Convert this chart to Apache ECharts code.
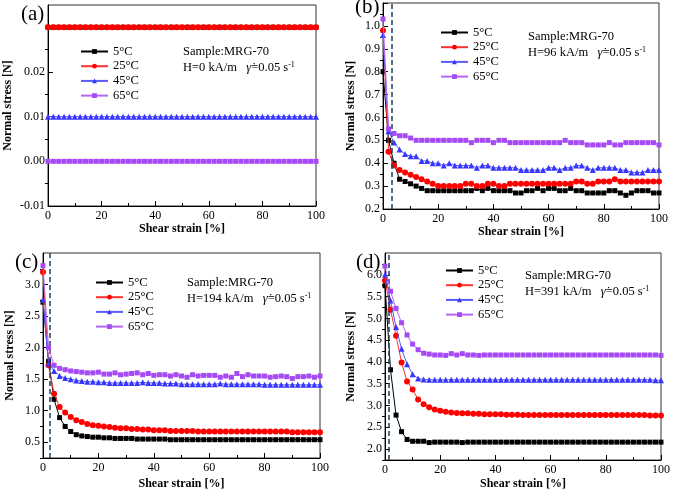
<!DOCTYPE html>
<html><head><meta charset="utf-8">
<script src="https://cdn.jsdelivr.net/npm/echarts@6/dist/echarts.min.js"></script>
<style>html,body{margin:0;padding:0;background:#fff}#c{width:673px;height:493px}</style>
</head><body><div id="c"></div>
<script>
const names = ['5°C','25°C','45°C','65°C'];
const strain = [0,2,4,6,8,10,12,14,16,18,20,22,24,26,28,30,32,34,36,38,40,42,44,46,48,50,52,54,56,58,60,62,64,66,68,70,72,74,76,78,80,82,84,86,88,90,92,94,96,98,100];

// Panel (a) H=0 kA/m
const a5  = [0.03,0.03,0.03,0.03,0.03,0.03,0.03,0.03,0.03,0.03,0.03,0.03,0.03,0.03,0.03,0.03,0.03,0.03,0.03,0.03,0.03,0.03,0.03,0.03,0.03,0.03,0.03,0.03,0.03,0.03,0.03,0.03,0.03,0.03,0.03,0.03,0.03,0.03,0.03,0.03,0.03,0.03,0.03,0.03,0.03,0.03,0.03,0.03,0.03,0.03,0.03];
const a25 = [0.03,0.03,0.03,0.03,0.03,0.03,0.03,0.03,0.03,0.03,0.03,0.03,0.03,0.03,0.03,0.03,0.03,0.03,0.03,0.03,0.03,0.03,0.03,0.03,0.03,0.03,0.03,0.03,0.03,0.03,0.03,0.03,0.03,0.03,0.03,0.03,0.03,0.03,0.03,0.03,0.03,0.03,0.03,0.03,0.03,0.03,0.03,0.03,0.03,0.03,0.03];
const a45 = [0.01,0.01,0.01,0.01,0.01,0.01,0.01,0.01,0.01,0.01,0.01,0.01,0.01,0.01,0.01,0.01,0.01,0.01,0.01,0.01,0.01,0.01,0.01,0.01,0.01,0.01,0.01,0.01,0.01,0.01,0.01,0.01,0.01,0.01,0.01,0.01,0.01,0.01,0.01,0.01,0.01,0.01,0.01,0.01,0.01,0.01,0.01,0.01,0.01,0.01,0.01];
const a65 = [0,0,0,0,0,0,0,0,0,0,0,0,0,0,0,0,0,0,0,0,0,0,0,0,0,0,0,0,0,0,0,0,0,0,0,0,0,0,0,0,0,0,0,0,0,0,0,0,0,0,0];

// Panel (b) H=96 kA/m
const b5  = [0.80,0.50,0.40,0.33,0.32,0.31,0.30,0.29,0.28,0.28,0.28,0.28,0.28,0.28,0.28,0.28,0.28,0.29,0.28,0.29,0.28,0.28,0.28,0.28,0.27,0.27,0.28,0.28,0.29,0.28,0.29,0.29,0.28,0.28,0.29,0.28,0.28,0.27,0.27,0.27,0.27,0.28,0.28,0.27,0.26,0.27,0.28,0.28,0.28,0.27,0.27];
const b25 = [0.98,0.45,0.39,0.37,0.36,0.35,0.34,0.33,0.32,0.31,0.30,0.30,0.30,0.30,0.30,0.31,0.31,0.30,0.30,0.31,0.31,0.30,0.30,0.31,0.31,0.31,0.31,0.31,0.31,0.31,0.31,0.31,0.31,0.31,0.31,0.32,0.32,0.31,0.31,0.32,0.32,0.32,0.33,0.32,0.32,0.32,0.32,0.32,0.32,0.32,0.32];
const b45 = [0.96,0.54,0.49,0.46,0.44,0.43,0.43,0.41,0.41,0.40,0.40,0.39,0.40,0.39,0.39,0.39,0.39,0.38,0.39,0.39,0.38,0.38,0.38,0.38,0.38,0.37,0.37,0.37,0.37,0.37,0.38,0.38,0.37,0.38,0.38,0.39,0.39,0.38,0.37,0.38,0.38,0.38,0.38,0.37,0.37,0.36,0.36,0.36,0.37,0.37,0.37];
const b65 = [1.03,0.55,0.53,0.52,0.52,0.51,0.50,0.50,0.50,0.50,0.50,0.50,0.50,0.50,0.50,0.50,0.49,0.50,0.50,0.50,0.49,0.50,0.50,0.49,0.49,0.49,0.49,0.49,0.49,0.49,0.49,0.49,0.49,0.50,0.49,0.49,0.49,0.48,0.48,0.48,0.48,0.49,0.48,0.48,0.49,0.49,0.49,0.49,0.49,0.49,0.48];

// Panel (c) H=194 kA/m
const c5  = [2.72,1.78,1.18,0.89,0.75,0.67,0.62,0.60,0.59,0.58,0.58,0.57,0.57,0.56,0.56,0.56,0.56,0.55,0.55,0.55,0.55,0.55,0.55,0.54,0.54,0.54,0.54,0.54,0.54,0.54,0.54,0.54,0.54,0.54,0.54,0.54,0.54,0.54,0.54,0.54,0.54,0.54,0.54,0.54,0.54,0.54,0.54,0.54,0.54,0.54,0.54];
const c25 = [3.20,1.72,1.27,1.06,0.97,0.90,0.85,0.82,0.79,0.77,0.76,0.75,0.74,0.73,0.72,0.72,0.71,0.71,0.70,0.70,0.69,0.69,0.69,0.68,0.68,0.68,0.68,0.68,0.67,0.67,0.67,0.67,0.67,0.67,0.67,0.67,0.67,0.67,0.67,0.67,0.67,0.67,0.67,0.67,0.67,0.66,0.66,0.66,0.66,0.66,0.66];
const c45 = [2.76,1.75,1.63,1.55,1.52,1.50,1.48,1.47,1.46,1.46,1.45,1.45,1.44,1.44,1.44,1.44,1.44,1.44,1.45,1.44,1.44,1.44,1.43,1.43,1.43,1.42,1.42,1.42,1.42,1.42,1.42,1.42,1.43,1.42,1.42,1.42,1.42,1.42,1.42,1.42,1.41,1.41,1.41,1.41,1.41,1.41,1.41,1.41,1.41,1.41,1.41];
const c65 = [3.30,2.00,1.72,1.67,1.65,1.63,1.62,1.61,1.60,1.60,1.61,1.58,1.58,1.60,1.57,1.58,1.59,1.60,1.57,1.59,1.56,1.57,1.57,1.55,1.57,1.55,1.53,1.57,1.55,1.56,1.56,1.56,1.53,1.55,1.53,1.59,1.54,1.57,1.55,1.55,1.55,1.53,1.54,1.55,1.54,1.51,1.54,1.54,1.55,1.53,1.55];

// Panel (d) H=391 kA/m
const d5  = [5.75,3.82,2.78,2.40,2.22,2.18,2.18,2.18,2.15,2.16,2.16,2.16,2.16,2.16,2.15,2.16,2.16,2.16,2.16,2.16,2.16,2.16,2.16,2.16,2.16,2.16,2.16,2.16,2.16,2.16,2.16,2.16,2.16,2.16,2.16,2.16,2.16,2.16,2.16,2.16,2.16,2.16,2.16,2.16,2.16,2.16,2.16,2.16,2.16,2.16,2.16];
const d25 = [5.87,5.20,4.60,3.99,3.55,3.37,3.14,3.03,2.96,2.91,2.88,2.86,2.84,2.83,2.82,2.82,2.81,2.81,2.80,2.80,2.80,2.80,2.79,2.79,2.79,2.78,2.78,2.78,2.78,2.78,2.78,2.78,2.78,2.78,2.78,2.78,2.78,2.78,2.78,2.78,2.78,2.78,2.78,2.78,2.78,2.78,2.78,2.78,2.77,2.77,2.77];
const d45 = [6.00,5.41,4.80,4.30,3.95,3.72,3.62,3.60,3.59,3.59,3.59,3.59,3.59,3.59,3.59,3.59,3.59,3.59,3.59,3.59,3.59,3.59,3.59,3.59,3.59,3.59,3.59,3.59,3.59,3.59,3.59,3.59,3.59,3.59,3.59,3.59,3.59,3.59,3.59,3.59,3.59,3.59,3.59,3.59,3.59,3.59,3.59,3.59,3.59,3.58,3.58];
const d65 = [6.20,5.62,5.23,4.90,4.62,4.41,4.28,4.20,4.18,4.16,4.16,4.15,4.19,4.16,4.19,4.16,4.16,4.15,4.16,4.16,4.16,4.16,4.16,4.16,4.16,4.16,4.16,4.16,4.16,4.16,4.16,4.16,4.16,4.16,4.16,4.16,4.16,4.16,4.16,4.16,4.16,4.16,4.16,4.16,4.16,4.16,4.16,4.16,4.16,4.16,4.15];

// Tick labels / ticks
const xLabels = [0,20,40,60,80,100];
const yLabA = [-0.01,0,0.01,0.02];
const yMajA = [-0.01,0,0.01,0.02,0.03];
const yMinA = [-0.005,0.005,0.015,0.025];
const yLabB = [0.2,0.3,0.4,0.5,0.6,0.7,0.8,0.9,1.0];
const yMinB = [0.25,0.35,0.45,0.55,0.65,0.75,0.85,0.95,1.05];
const yLabC = [0.5,1.0,1.5,2.0,2.5,3.0];
const yMinC = [0.25,0.75,1.25,1.75,2.25,2.75,3.25];
const yLabD = [2.0,2.5,3.0,3.5,4.0,4.5,5.0,5.5,6.0];
const yMinD = [1.75,2.25,2.75,3.25,3.75,4.25,4.75,5.25,5.75,6.25];
const dashX = [null, 3, 2.4, 1.3];
const fields = ['0','96','194','391'];

const FONT = '"Liberation Serif","Times New Roman",serif';
const colors = ['#000000','#ff0000','#3636ff','#a54af5'];
const lineColors = ['#000000','#ff3030','#5a5aff','#b566f5'];
const symbols = ['rect','circle','triangle','rect'];
const sizes = [5,6,6,5];

const panels = [
  {grid:{left:48,top:5,width:268,height:201}, min:-0.01, max:0.035, lab:yLabA, maj:yMajA, mnr:yMinA, dec:2, data:[a5,a25,a45,a65], yGap:34, xGap:17, leg:{left:80,top:45}},
  {grid:{left:383,top:3,width:276,height:206}, min:0.2, max:1.1, lab:yLabB, maj:yLabB.concat([1.1]), mnr:yMinB, dec:1, data:[b5,b25,b45,b65], yGap:26, xGap:15, leg:{left:440,top:26}},
  {grid:{left:43,top:253,width:277,height:205}, min:0.25, max:3.5, lab:yLabC, maj:yLabC, mnr:yMinC, dec:1, data:[c5,c25,c45,c65], yGap:27, xGap:20, leg:{left:95,top:276}},
  {grid:{left:385,top:253,width:277,height:207}, min:1.75, max:6.5, lab:yLabD, maj:yLabD, mnr:yMinD, dec:1, data:[d5,d25,d45,d65], yGap:28, xGap:18, leg:{left:445,top:264}}
];

const grid=[], xAxis=[], yAxis=[], series=[], legend=[];
panels.forEach((p,i)=>{
  grid.push(Object.assign({show:true,borderColor:'#333',borderWidth:1,backgroundColor:'transparent'},p.grid));
  xAxis.push({gridIndex:i,type:'value',min:0,max:100,interval:20,
    axisLine:{show:true,onZero:false,lineStyle:{color:'#000',width:1}},
    axisTick:{show:true,inside:true,length:5,lineStyle:{color:'#000'}},
    minorTick:{show:true,splitNumber:2,length:3,lineStyle:{color:'#000'}},
    axisLabel:{customValues:xLabels,color:'#000',fontFamily:FONT,fontSize:12,margin:4},
    splitLine:{show:false},
    name:'Shear strain [%]',nameLocation:'middle',nameGap:p.xGap,
    nameTextStyle:{color:'#000',fontFamily:FONT,fontSize:12,fontWeight:'bold'}});
  yAxis.push({gridIndex:i,type:'value',min:p.min,max:p.max,
    axisLine:{show:true,onZero:false,lineStyle:{color:'#000',width:1}},
    axisTick:{show:true,inside:true,length:5,customValues:p.maj,lineStyle:{color:'#000'}},
    axisLabel:{customValues:p.lab,color:'#000',fontFamily:FONT,fontSize:12,margin:3,
      formatter:(v)=>Number(v).toFixed(p.dec)},
    splitLine:{show:false},
    name:'Normal stress [N]',nameLocation:'middle',nameGap:p.yGap,
    nameTextStyle:{color:'#000',fontFamily:FONT,fontSize:12,fontWeight:'bold'}});
  yAxis.push({gridIndex:i,type:'value',min:p.min,max:p.max,
    axisLine:{show:false},
    axisTick:{show:true,inside:true,length:3,customValues:p.mnr,lineStyle:{color:'#000'}},
    axisLabel:{show:false},splitLine:{show:false}});
  p.data.forEach((vals,k)=>{
    const s = {name:names[k],type:'line',xAxisIndex:i,yAxisIndex:2*i,
      data:strain.map((x,j)=>[x,vals[j]]),
      symbol:symbols[k],symbolSize:sizes[k],showAllSymbol:true,
      lineStyle:{color:lineColors[k],width:1},
      itemStyle:{color:colors[k]},
      z:2+k,animation:false};
    if(k===0 && dashX[i]!==null){
      s.markLine={silent:true,symbol:'none',label:{show:false},
        lineStyle:{color:'#1d3f5e',type:[5,3],width:1.5},
        data:[{xAxis:dashX[i]}],animation:false};
    }
    series.push(s);
  });
  legend.push({left:p.leg.left,top:p.leg.top,padding:0,orient:'vertical',itemWidth:27,itemHeight:6,itemGap:1.7,
    data:names,textStyle:{color:'#000',fontFamily:FONT,fontSize:12.5},selectedMode:false});
});

const annPos = [{x:183,y:45},{x:528,y:30},{x:187,y:276},{x:525,y:269}];
const hGap = ['   ','   ','   ','   '];
const labelsPos = [{x:21,y:4,t:'(a)'},{x:355,y:-3,t:'(b)'},{x:15,y:252,t:'(c)'},{x:356,y:252,t:'(d)'}];
const graphic=[];
annPos.forEach((a,i)=>{
  graphic.push({type:'text',left:a.x,top:a.y,z:10,style:{text:'Sample:MRG-70',fontFamily:FONT,fontSize:12.5,fill:'#000'}});
  graphic.push({type:'text',left:a.x,top:a.y+16,z:10,style:{text:'H='+fields[i]+' kA/m'+hGap[i]+'{g|γ̇}=0.05 s{s|-1}',
    fontFamily:FONT,fontSize:12.5,fill:'#000',lineHeight:14,
    rich:{g:{fontStyle:'italic',fontFamily:FONT,fontSize:12.5,lineHeight:14},s:{fontFamily:FONT,fontSize:8,lineHeight:8,verticalAlign:'top'}}}});
});
labelsPos.forEach(l=>{
  graphic.push({type:'text',left:l.x,top:l.y,z:10,style:{text:l.t,fontFamily:FONT,fontSize:21,fill:'#000'}});
});

const chart = echarts.init(document.getElementById('c'),null,{renderer:'canvas'});
chart.setOption({animation:false,backgroundColor:'#fff',grid,xAxis,yAxis,series,legend,graphic});
</script></body></html>
